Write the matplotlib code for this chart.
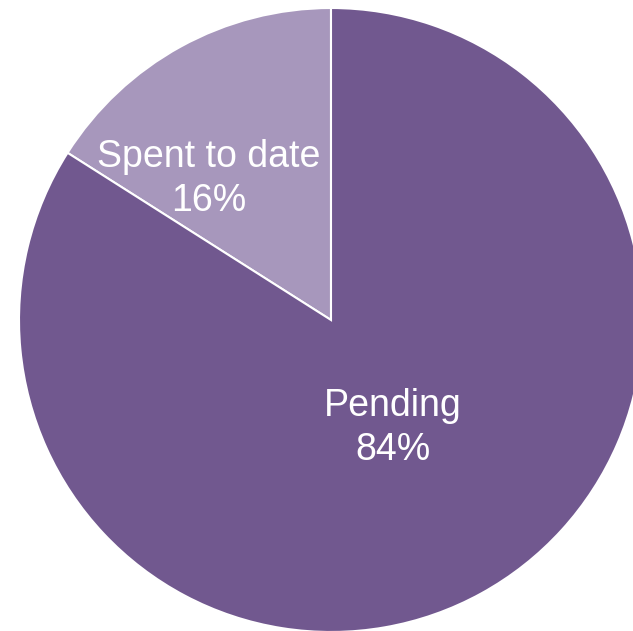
import matplotlib
matplotlib.use("Agg")
import matplotlib.pyplot as plt

categories = ["Spent to date", "Pending"]
values = [16, 84]
colors = ["#A797BC", "#71588F"]

W, H = 633, 631
cx, cy, R = 331, 320, 312

fig = plt.figure(figsize=(W / 100, H / 100), dpi=100)
ax = fig.add_axes([0, 0, 1, 1])
ax.pie(values, colors=colors, startangle=90, counterclock=True, radius=1.0,
       wedgeprops=dict(edgecolor="white", linewidth=1.5))
ax.set_aspect("auto")
ax.set_xlim(-cx / R, (W - cx) / R)
ax.set_ylim(-(H - cy) / R, cy / R)
ax.axis("off")

label_pos = [(209, 179), (393, 428)]
for cat, v, (px, py) in zip(categories, values, label_pos):
    ax.text((px - cx) / R, (cy - py) / R, f"{cat}\n{v}%", ha="center", va="center",
            color="white", fontsize=27, family=["Liberation Sans", "DejaVu Sans"],
            linespacing=1.3)

fig.savefig("out.png", dpi=100)
